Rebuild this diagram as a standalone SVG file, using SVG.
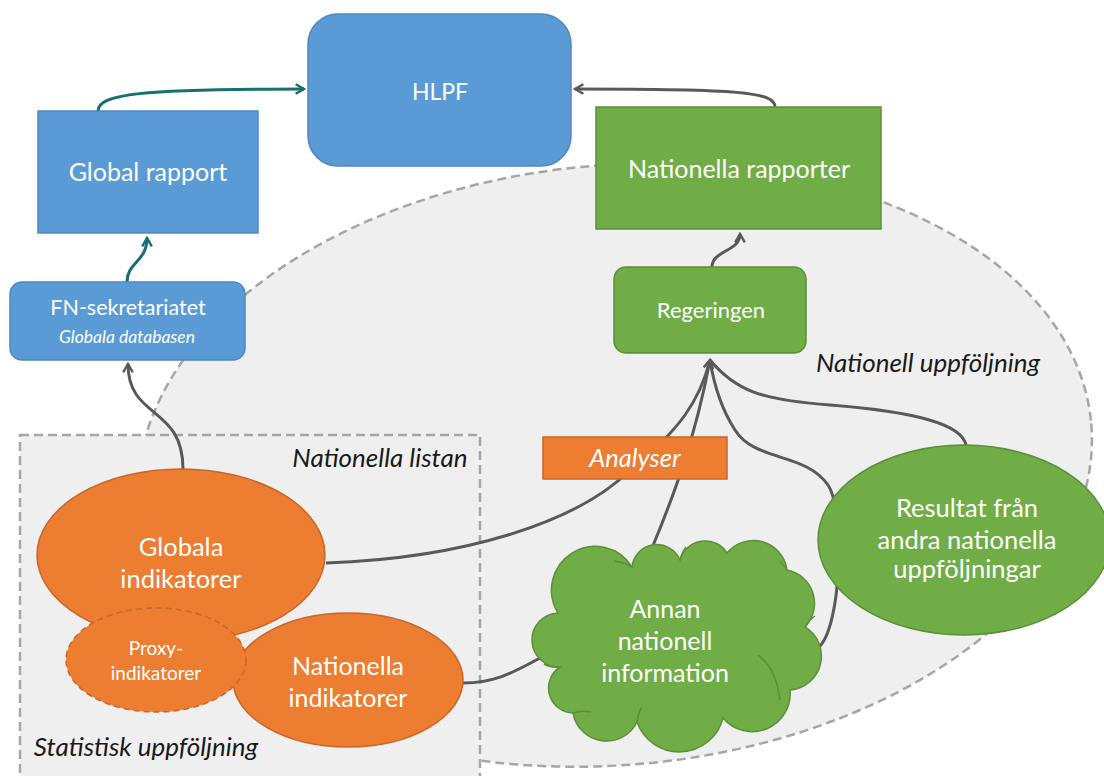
<svg xmlns="http://www.w3.org/2000/svg" width="1104" height="776" viewBox="0 0 1104 776">
<style>
text{font-family:Lato,"Open Sans","Liberation Sans",sans-serif;text-anchor:middle}
.w{fill:#ffffff}
.lab{fill:#1a1a1a;font-style:italic;font-size:26px}
.blue{fill:#5b9bd5;stroke:#4f88c2;stroke-width:1.5}
.green{fill:#70ad47;stroke:#5b8f38;stroke-width:1.5}
.gl{fill:none;stroke:#5b8f38;stroke-width:1.5}
.orange{fill:#ed7d31;stroke:#c8662a;stroke-width:1.5}
.area{fill:#efefef;stroke:#a6a6a6;stroke-width:2.5;stroke-dasharray:9 5}
.c{fill:none;stroke:#595959;stroke-width:3}
.t{fill:none;stroke:#17706f;stroke-width:3}
</style>
<defs>
<marker id="ag" viewBox="0 0 10 10" refX="8" refY="5" markerWidth="4" markerHeight="4" orient="auto" markerUnits="strokeWidth"><path d="M1,1 L8,5 L1,9" fill="none" stroke="#595959" stroke-width="2"/></marker>
<marker id="at" viewBox="0 0 10 10" refX="8" refY="5" markerWidth="4" markerHeight="4" orient="auto" markerUnits="strokeWidth"><path d="M1,1 L8,5 L1,9" fill="none" stroke="#17706f" stroke-width="2"/></marker>
</defs>
<rect width="1104" height="776" fill="#ffffff"/>
<g id="area-nationell">
<ellipse class="area" cx="615" cy="465" rx="478" ry="300" transform="rotate(-5 615 465)"/>
<text class="lab" x="928" y="372">Nationell uppföljning</text>
</g>
<g id="area-listan">
<rect class="area" x="20" y="435" width="460" height="360"/>
<text class="lab" x="380" y="467">Nationella listan</text>
<text class="lab" x="146" y="756">Statistisk uppföljning</text>
</g>
<g id="connectors">
<path class="t" d="M98 111 C98 94 140 89 304 89" marker-end="url(#at)"/>
<path class="t" d="M127 282 C127 262 147 262 147 238" marker-end="url(#at)"/>
<path class="c" d="M775 107 C775 92 740 89 575 89" marker-end="url(#ag)"/>
<path class="c" d="M712 267 C712 250 740 252 740 234" marker-end="url(#ag)"/>
<path class="c" d="M183 469 C183 405 128 420 128 364" marker-end="url(#ag)"/>
<path class="c" d="M326 563 C470 558 580 520 630 470 C680 430 700 400 710 360"/>
<path class="c" d="M966 445 C962 425 920 412 830 405 C760 400 735 390 710 360"/>
<path class="c" d="M818 648 C842 628 845 510 828 485 C805 452 755 462 735 430 C722 410 714 385 710 360"/>
<path class="c" d="M463 683 C500 683 520 668 546 655"/>
<path class="c" d="M652 548 C672 500 695 440 710 360" marker-end="url(#ag)"/>
</g>
<g id="hlpf">
<rect class="blue" x="308" y="14" width="263" height="152" rx="30"/>
<text class="w" x="440" y="100" font-size="23">HLPF</text>
</g>
<g id="global-rapport">
<rect class="blue" x="38" y="111" width="220" height="122"/>
<text class="w" x="148" y="181" font-size="25">Global rapport</text>
</g>
<g id="fn-sekretariatet">
<rect class="blue" x="10" y="282" width="235" height="78" rx="12"/>
<text class="w" x="128" y="315" font-size="21.5">FN-sekretariatet</text>
<text class="w" x="127" y="343" font-size="17.5" font-style="italic">Globala databasen</text>
</g>
<g id="nationella-rapporter">
<rect class="green" x="596" y="107" width="285" height="122"/>
<text class="w" x="739" y="178" font-size="25">Nationella rapporter</text>
</g>
<g id="regeringen">
<rect class="green" x="614" y="267" width="192" height="86" rx="12"/>
<text class="w" x="711" y="318" font-size="22">Regeringen</text>
</g>
<g id="analyser">
<rect class="orange" x="543" y="437" width="184" height="42"/>
<text class="w" x="635" y="467" font-size="25.5" font-style="italic">Analyser</text>
</g>
<g id="globala-indikatorer">
<ellipse class="orange" cx="181" cy="555" rx="144" ry="86"/>
<text class="w" x="181" y="556" font-size="25.5">Globala</text>
<text class="w" x="181" y="588" font-size="25.5">indikatorer</text>
</g>
<g id="nationella-indikatorer">
<ellipse class="orange" cx="348" cy="680" rx="115" ry="67"/>
<text class="w" x="348" y="675" font-size="25">Nationella</text>
<text class="w" x="348" y="707" font-size="25">indikatorer</text>
</g>
<g id="proxy-indikatorer">
<ellipse class="orange" cx="156" cy="660" rx="90" ry="52" stroke-dasharray="6 4"/>
<text class="w" x="156" y="655" font-size="19">Proxy-</text>
<text class="w" x="156" y="680" font-size="19">indikatorer</text>
</g>
<g id="annan-information">
<path class="green" d="M558 613 A42 42 0 0 1 632 567 A25 25 0 0 1 680 560 A26 26 0 0 1 727 553 A34 34 0 0 1 787 570 A34 34 0 0 1 805 627 A34 34 0 0 1 790 690 A38 38 0 0 1 723 718 A45 45 0 0 1 637 722 A34 34 0 0 1 573 713 A25 25 0 0 1 560 667 A27 27 0 0 1 558 613 Z"/>
<path class="gl" d="M560 667 Q551 668 544 664 M632 567 Q624 562 614 561 M680 560 Q682 552 686 547 M787 570 Q785 566 780 562 M805 627 Q809 620 815 616 M758 655 Q776 668 780 700 M637 722 Q638 713 642 707 M573 713 Q581 710 591 712"/>
<text class="w" x="665" y="618" font-size="25">Annan</text>
<text class="w" x="665" y="650" font-size="25">nationell</text>
<text class="w" x="665" y="682" font-size="25">information</text>
</g>
<g id="resultat">
<ellipse class="green" cx="964" cy="540" rx="146" ry="95"/>
<text class="w" x="967" y="517" font-size="25.5">Resultat från</text>
<text class="w" x="967" y="549" font-size="25.5">andra nationella</text>
<text class="w" x="967" y="578" font-size="25.5">uppföljningar</text>
</g>
</svg>
